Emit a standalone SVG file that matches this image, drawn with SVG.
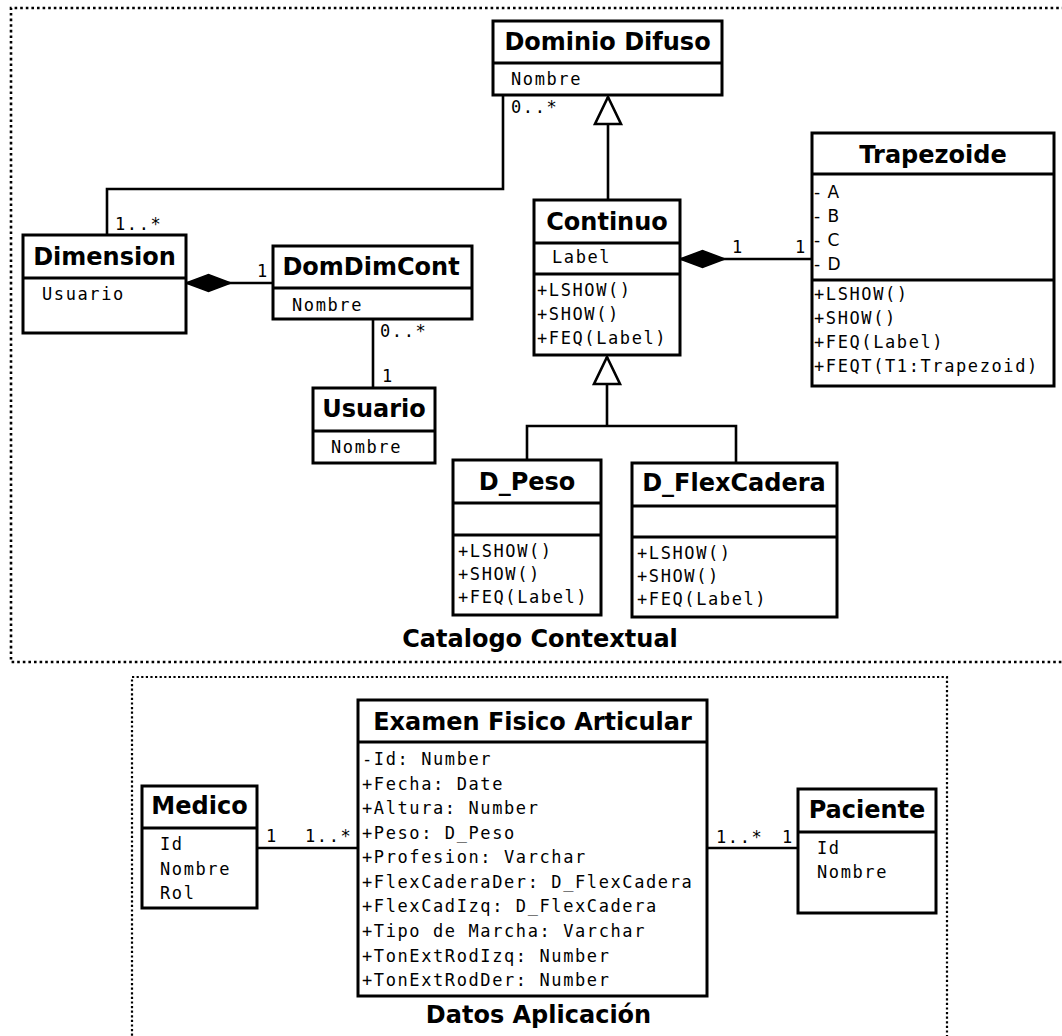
<svg xmlns="http://www.w3.org/2000/svg" width="1062" height="1036" viewBox="0 0 1062 1036">
  <style>
    .box { fill: #fff; stroke: #000; stroke-width: 3; }
    .sep { stroke: #000; stroke-width: 3; }
    .conn { fill: none; stroke: #000; stroke-width: 2.6; }
    .frame { fill: none; stroke: #000; stroke-width: 2.6; stroke-dasharray: 2.6 3; }
    .frame2 { fill: none; stroke: #000; stroke-width: 2.2; stroke-dasharray: 2.2 2.4; }
    .title { font-family: "DejaVu Sans", "Liberation Sans", sans-serif; font-weight: bold; font-size: 24px; text-anchor: middle; fill: #000; }
    .mono { font-family: "DejaVu Sans Mono", "Liberation Mono", monospace; font-size: 17px; letter-spacing: 1.6px; fill: #000; }
    .sans { font-family: "DejaVu Sans", "Liberation Sans", sans-serif; font-size: 17px; letter-spacing: 1px; fill: #000; }
  </style>
  <defs>
    <!-- filled diamond for composition ends -->
    <marker id="diamond" markerUnits="userSpaceOnUse" viewBox="-1 -10 48 20" refX="0" refY="0" markerWidth="48" markerHeight="20" orient="auto">
      <path d="M0,0 L22.5,-8.5 L45,0 L22.5,8.5 Z" fill="#000" stroke="#000" stroke-width="1.5"/>
    </marker>
    <!-- hollow triangle for generalization ends -->
    <marker id="gen" markerUnits="userSpaceOnUse" viewBox="-2 -16 32 32" refX="0" refY="0" markerWidth="32" markerHeight="32" orient="auto">
      <path d="M0,0 L27,-13 L27,13 Z" fill="#fff" stroke="#000" stroke-width="2.6" stroke-linejoin="miter"/>
    </marker>
  </defs>

  <rect width="1062" height="1036" fill="#fff"/>

  <!-- package frames -->
  <g id="pkg-catalogo">
    <path class="frame" d="M1070,8 H11 V662 H1070"/>
    <text class="title" x="540" y="647">Catalogo Contextual</text>
  </g>
  <g id="pkg-datos">
    <path class="frame2" d="M132,1045 V677 H947 V1045"/>
    <text class="title" x="538.5" y="1023">Datos Aplicación</text>
  </g>

  <!-- connectors -->
  <g id="connectors">
    <path class="conn" d="M503,95 V189 H107 V235"/>
    <text class="mono" x="511" y="113">0..*</text>
    <text class="mono" x="115" y="230">1..*</text>

    <path class="conn" d="M608,97 V200" marker-start="url(#gen)"/>

    <path class="conn" d="M186,283 H273" marker-start="url(#diamond)"/>
    <text class="mono" x="257" y="277">1</text>

    <path class="conn" d="M373,319 V388"/>
    <text class="mono" x="380" y="337">0..*</text>
    <text class="mono" x="382" y="382">1</text>

    <path class="conn" d="M680,259 H812" marker-start="url(#diamond)"/>
    <text class="mono" x="732" y="253">1</text>
    <text class="mono" x="795" y="253">1</text>

    <path class="conn" d="M607,357 V426 H527 V460 M607,426 H736 V463" marker-start="url(#gen)"/>

    <path class="conn" d="M257,848 H358"/>
    <text class="mono" x="266" y="842">1</text>
    <text class="mono" x="305" y="842">1..*</text>

    <path class="conn" d="M707,848 H798"/>
    <text class="mono" x="716" y="843">1..*</text>
    <text class="mono" x="782" y="843">1</text>
  </g>

  <!-- classes -->
  <g id="dominio-difuso">
    <rect class="box" x="493" y="21" width="229" height="74"/>
    <line class="sep" x1="493" y1="63" x2="722" y2="63"/>
    <text class="title" x="607.5" y="50">Dominio Difuso</text>
    <text class="mono" x="511" y="85">Nombre</text>
  </g>

  <g id="dimension">
    <rect class="box" x="23" y="235" width="163" height="98"/>
    <line class="sep" x1="23" y1="278" x2="186" y2="278"/>
    <text class="title" x="104.5" y="265">Dimension</text>
    <text class="mono" x="42" y="300">Usuario</text>
  </g>

  <g id="domdimcont">
    <rect class="box" x="273" y="246" width="199" height="73"/>
    <line class="sep" x1="273" y1="288" x2="472" y2="288"/>
    <text class="title" x="371" y="275">DomDimCont</text>
    <text class="mono" x="292" y="311">Nombre</text>
  </g>

  <g id="usuario">
    <rect class="box" x="313" y="388" width="122" height="75"/>
    <line class="sep" x1="313" y1="431" x2="435" y2="431"/>
    <text class="title" x="374" y="417">Usuario</text>
    <text class="mono" x="331" y="453">Nombre</text>
  </g>

  <g id="continuo">
    <rect class="box" x="534" y="200" width="146" height="155"/>
    <line class="sep" x1="534" y1="243" x2="680" y2="243"/>
    <line class="sep" x1="534" y1="274" x2="680" y2="274"/>
    <text class="title" x="607" y="230">Continuo</text>
    <text class="mono" x="552" y="263">Label</text>
    <text class="mono" x="537" y="296">+LSHOW()</text>
    <text class="mono" x="537" y="320">+SHOW()</text>
    <text class="mono" x="537" y="344">+FEQ(Label)</text>
  </g>

  <g id="trapezoide">
    <rect class="box" x="812" y="133" width="242" height="253"/>
    <line class="sep" x1="812" y1="174" x2="1054" y2="174"/>
    <line class="sep" x1="812" y1="280" x2="1054" y2="280"/>
    <text class="title" x="933" y="163">Trapezoide</text>
    <text class="sans" x="814" y="198">- A</text>
    <text class="sans" x="814" y="222">- B</text>
    <text class="sans" x="814" y="246">- C</text>
    <text class="sans" x="814" y="270">- D</text>
    <text class="mono" x="814" y="300">+LSHOW()</text>
    <text class="mono" x="814" y="324">+SHOW()</text>
    <text class="mono" x="814" y="348">+FEQ(Label)</text>
    <text class="mono" x="814" y="372">+FEQT(T1:Trapezoid)</text>
  </g>

  <g id="d-peso">
    <rect class="box" x="453" y="460" width="148" height="155"/>
    <line class="sep" x1="453" y1="503" x2="601" y2="503"/>
    <line class="sep" x1="453" y1="535" x2="601" y2="535"/>
    <text class="title" x="527" y="490">D_Peso</text>
    <text class="mono" x="458" y="557">+LSHOW()</text>
    <text class="mono" x="458" y="580">+SHOW()</text>
    <text class="mono" x="458" y="603">+FEQ(Label)</text>
  </g>

  <g id="d-flexcadera">
    <rect class="box" x="632" y="463" width="205" height="154"/>
    <line class="sep" x1="632" y1="506" x2="837" y2="506"/>
    <line class="sep" x1="632" y1="537" x2="837" y2="537"/>
    <text class="title" x="734" y="491">D_FlexCadera</text>
    <text class="mono" x="637" y="559">+LSHOW()</text>
    <text class="mono" x="637" y="582">+SHOW()</text>
    <text class="mono" x="637" y="605">+FEQ(Label)</text>
  </g>

  <g id="medico">
    <rect class="box" x="142" y="786" width="115" height="122"/>
    <line class="sep" x1="142" y1="828" x2="257" y2="828"/>
    <text class="title" x="199.5" y="814">Medico</text>
    <text class="mono" x="160" y="850">Id</text>
    <text class="mono" x="160" y="875">Nombre</text>
    <text class="mono" x="160" y="899">Rol</text>
  </g>

  <g id="examen-fisico-articular">
    <rect class="box" x="358" y="700" width="349" height="296"/>
    <line class="sep" x1="358" y1="742" x2="707" y2="742"/>
    <text class="title" x="532.5" y="730">Examen Fisico Articular</text>
    <text class="mono" x="362" y="765">-Id: Number</text>
    <text class="mono" x="362" y="790">+Fecha: Date</text>
    <text class="mono" x="362" y="814">+Altura: Number</text>
    <text class="mono" x="362" y="839">+Peso: D_Peso</text>
    <text class="mono" x="362" y="863">+Profesion: Varchar</text>
    <text class="mono" x="362" y="888">+FlexCaderaDer: D_FlexCadera</text>
    <text class="mono" x="362" y="912">+FlexCadIzq: D_FlexCadera</text>
    <text class="mono" x="362" y="937">+Tipo de Marcha: Varchar</text>
    <text class="mono" x="362" y="962">+TonExtRodIzq: Number</text>
    <text class="mono" x="362" y="986">+TonExtRodDer: Number</text>
  </g>

  <g id="paciente">
    <rect class="box" x="798" y="789" width="138" height="124"/>
    <line class="sep" x1="798" y1="832" x2="936" y2="832"/>
    <text class="title" x="867" y="818">Paciente</text>
    <text class="mono" x="817" y="854">Id</text>
    <text class="mono" x="817" y="878">Nombre</text>
  </g>
</svg>
